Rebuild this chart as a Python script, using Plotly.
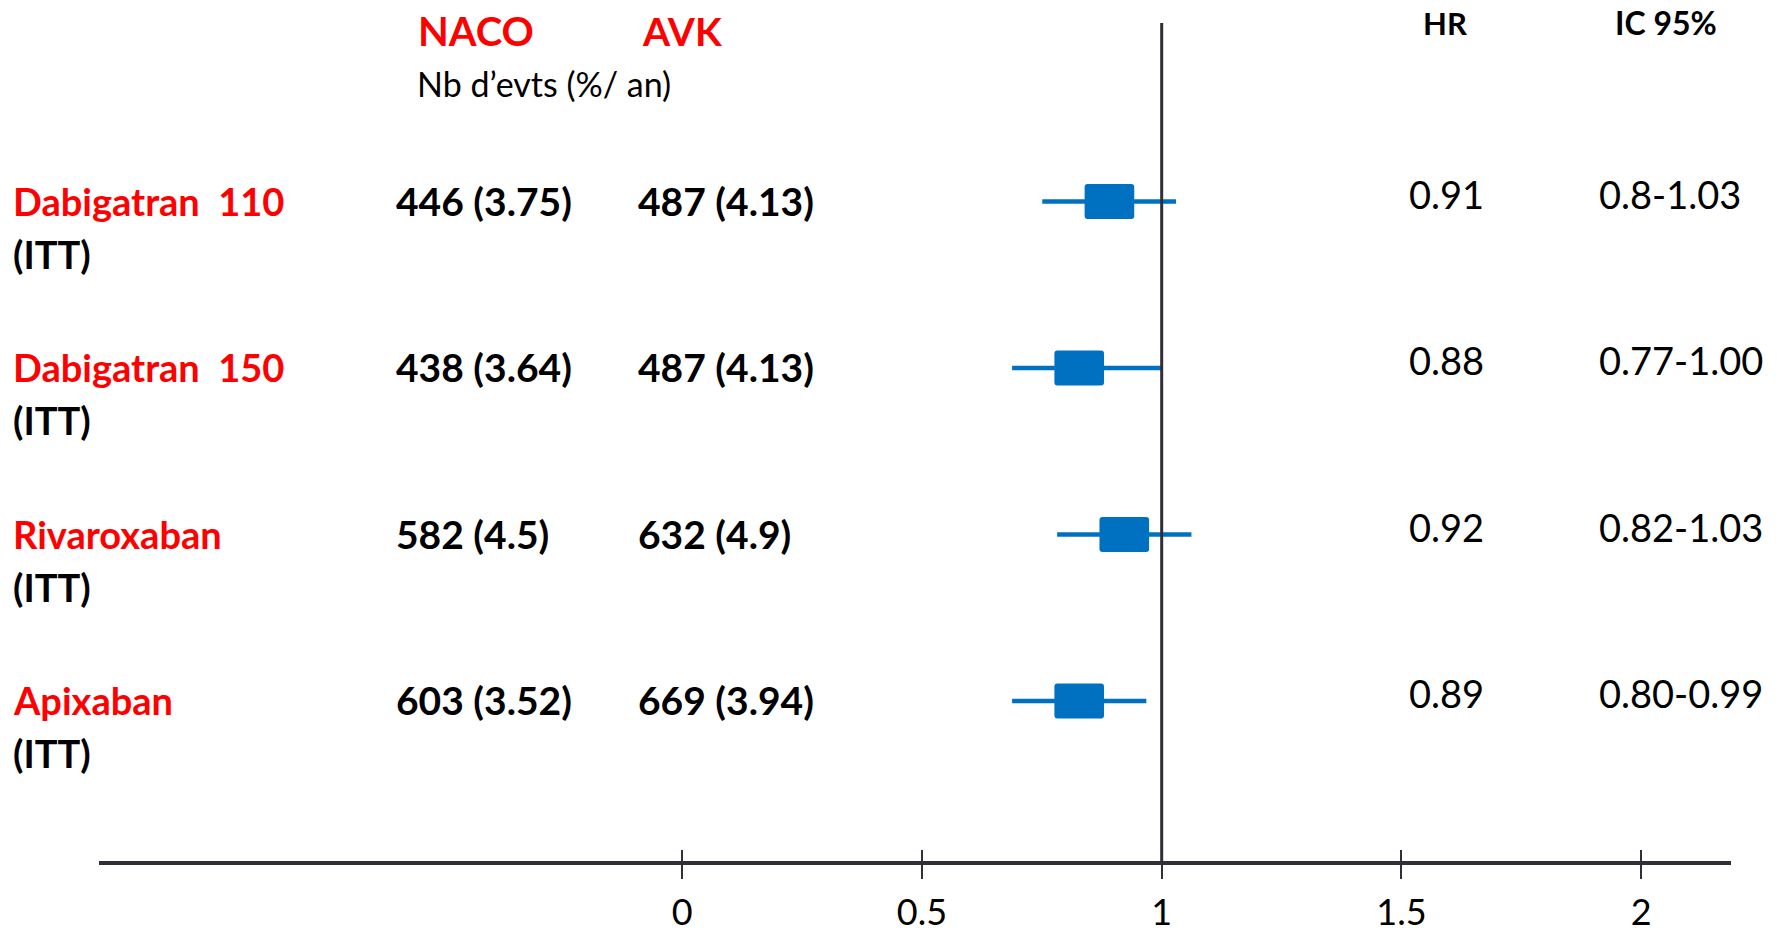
import plotly.graph_objects as go

# ---------------- data ----------------
drugs = ["Dabigatran  110", "Dabigatran  150", "Rivaroxaban", "Apixaban"]
analysis = ["(ITT)", "(ITT)", "(ITT)", "(ITT)"]
naco_events = [446, 438, 582, 603]
naco_rate = ["3.75", "3.64", "4.5", "3.52"]
avk_events = [487, 487, 632, 669]
avk_rate = ["4.13", "4.13", "4.9", "3.94"]
hr_text = ["0.91", "0.88", "0.92", "0.89"]
ci_text = ["0.8-1.03", "0.77-1.00", "0.82-1.03", "0.80-0.99"]
# positions of the drawn squares / CI lines
hr_point = [0.891, 0.828, 0.922, 0.828]
ci_low = [0.751, 0.688, 0.782, 0.688]
ci_high = [1.030, 1.000, 1.062, 0.968]
tick_vals = [0, 0.5, 1, 1.5, 2]
tick_text = ["0", "0.5", "1", "1.5", "2"]

# ---------------- style ----------------
W, H = 1786, 933
B = 84                      # bottom margin (x axis sits at pixel H-B)
PH = H - B                  # plot-area height in pixels
FONT = "Lato, 'Open Sans', sans-serif"
RED = "#FF0000"
BLUE = "#0070C0"
DARK = "#2f2f3a"
BOX_W = 0.1035
BOX_H = 0.21


def px(x):
    return x / W


def py(y):
    # paper coords are relative to the plot area (0..PH px from top)
    return 1 - y / PH


rows = list(range(len(drugs)))

fig = go.Figure()

# confidence intervals
fig.add_trace(go.Scatter(
    x=hr_point, y=rows, mode="markers",
    marker=dict(size=1, color="rgba(0,0,0,0)"),
    error_x=dict(type="data", symmetric=False,
                 array=[h - p for p, h in zip(hr_point, ci_high)],
                 arrayminus=[p - l for p, l in zip(hr_point, ci_low)],
                 width=0, thickness=4.5, color=BLUE),
    hoverinfo="skip", showlegend=False,
))

# squares
fig.add_trace(go.Bar(
    y=rows, x=[BOX_W] * len(rows),
    base=[p - BOX_W / 2 for p in hr_point],
    orientation="h", width=[BOX_H] * len(rows),
    marker=dict(color=BLUE, line=dict(width=0), cornerradius=3),
    hoverinfo="skip", showlegend=False,
))

ann = []


def txt(text, x, y, size, color="black", bold=False, yref="paper", yshift=0, xanchor="left"):
    ann.append(dict(
        text=f"<b>{text}</b>" if bold else text,
        x=x, xref="paper", y=y, yref=yref, yshift=yshift,
        xanchor=xanchor, yanchor="middle", showarrow=False,
        font=dict(family=FONT, size=size, color=color),
    ))


# headers
txt("NACO", px(416), py(31), 40, RED, True)
txt("AVK", px(640), py(31), 39, RED, True)
txt("Nb d\u2019evts (%/ an)", px(415), py(83), 34)
txt("HR", px(1445), py(23), 31, "black", True, xanchor="center")
txt("IC 95%", px(1666), py(23), 32, "black", True, xanchor="center")

for i in rows:
    txt(drugs[i], px(11), i, 38, RED, True, yref="y", yshift=1)
    txt(analysis[i], px(11), i, 38, "black", True, yref="y", yshift=-52)
    txt(f"{naco_events[i]} ({naco_rate[i]})", px(394), i, 39, "black", True, yref="y", yshift=1)
    txt(f"{avk_events[i]} ({avk_rate[i]})", px(636), i, 39, "black", True, yref="y", yshift=1)
    txt(hr_text[i], px(1407), i, 38, yref="y", yshift=8)
    txt(ci_text[i], px(1597), i, 38, yref="y", yshift=8)

fig.update_layout(
    width=W, height=H,
    margin=dict(l=0, r=0, t=0, b=B, autoexpand=False),
    paper_bgcolor="white", plot_bgcolor="white",
    annotations=ann,
    xaxis=dict(range=[-1.4227, 2.302], domain=[0, 1], automargin=False,
               tickvals=tick_vals, ticktext=tick_text,
               ticks="outside", ticklen=29, tickwidth=2, tickcolor=DARK,
               tickfont=dict(family=FONT, size=36, color="black"),
               ticklabelstandoff=3,
               showline=False, showgrid=False, zeroline=False),
    yaxis=dict(range=[3.8889, -1.2102], visible=False, automargin=False,
               showgrid=False, zeroline=False),
    shapes=[
        dict(type="line", xref="paper", yref="paper",
             x0=px(99), x1=px(1731), y0=py(863), y1=py(863),
             line=dict(color=DARK, width=4)),
        dict(type="line", xref="x", yref="paper",
             x0=1, x1=1, y0=py(863), y1=py(23),
             line=dict(color=DARK, width=3)),
    ],
    showlegend=False,
)

fig.write_html("out.html", config={"displayModeBar": False},
               post_script="document.body.style.margin='0';document.body.style.overflow='hidden';")
